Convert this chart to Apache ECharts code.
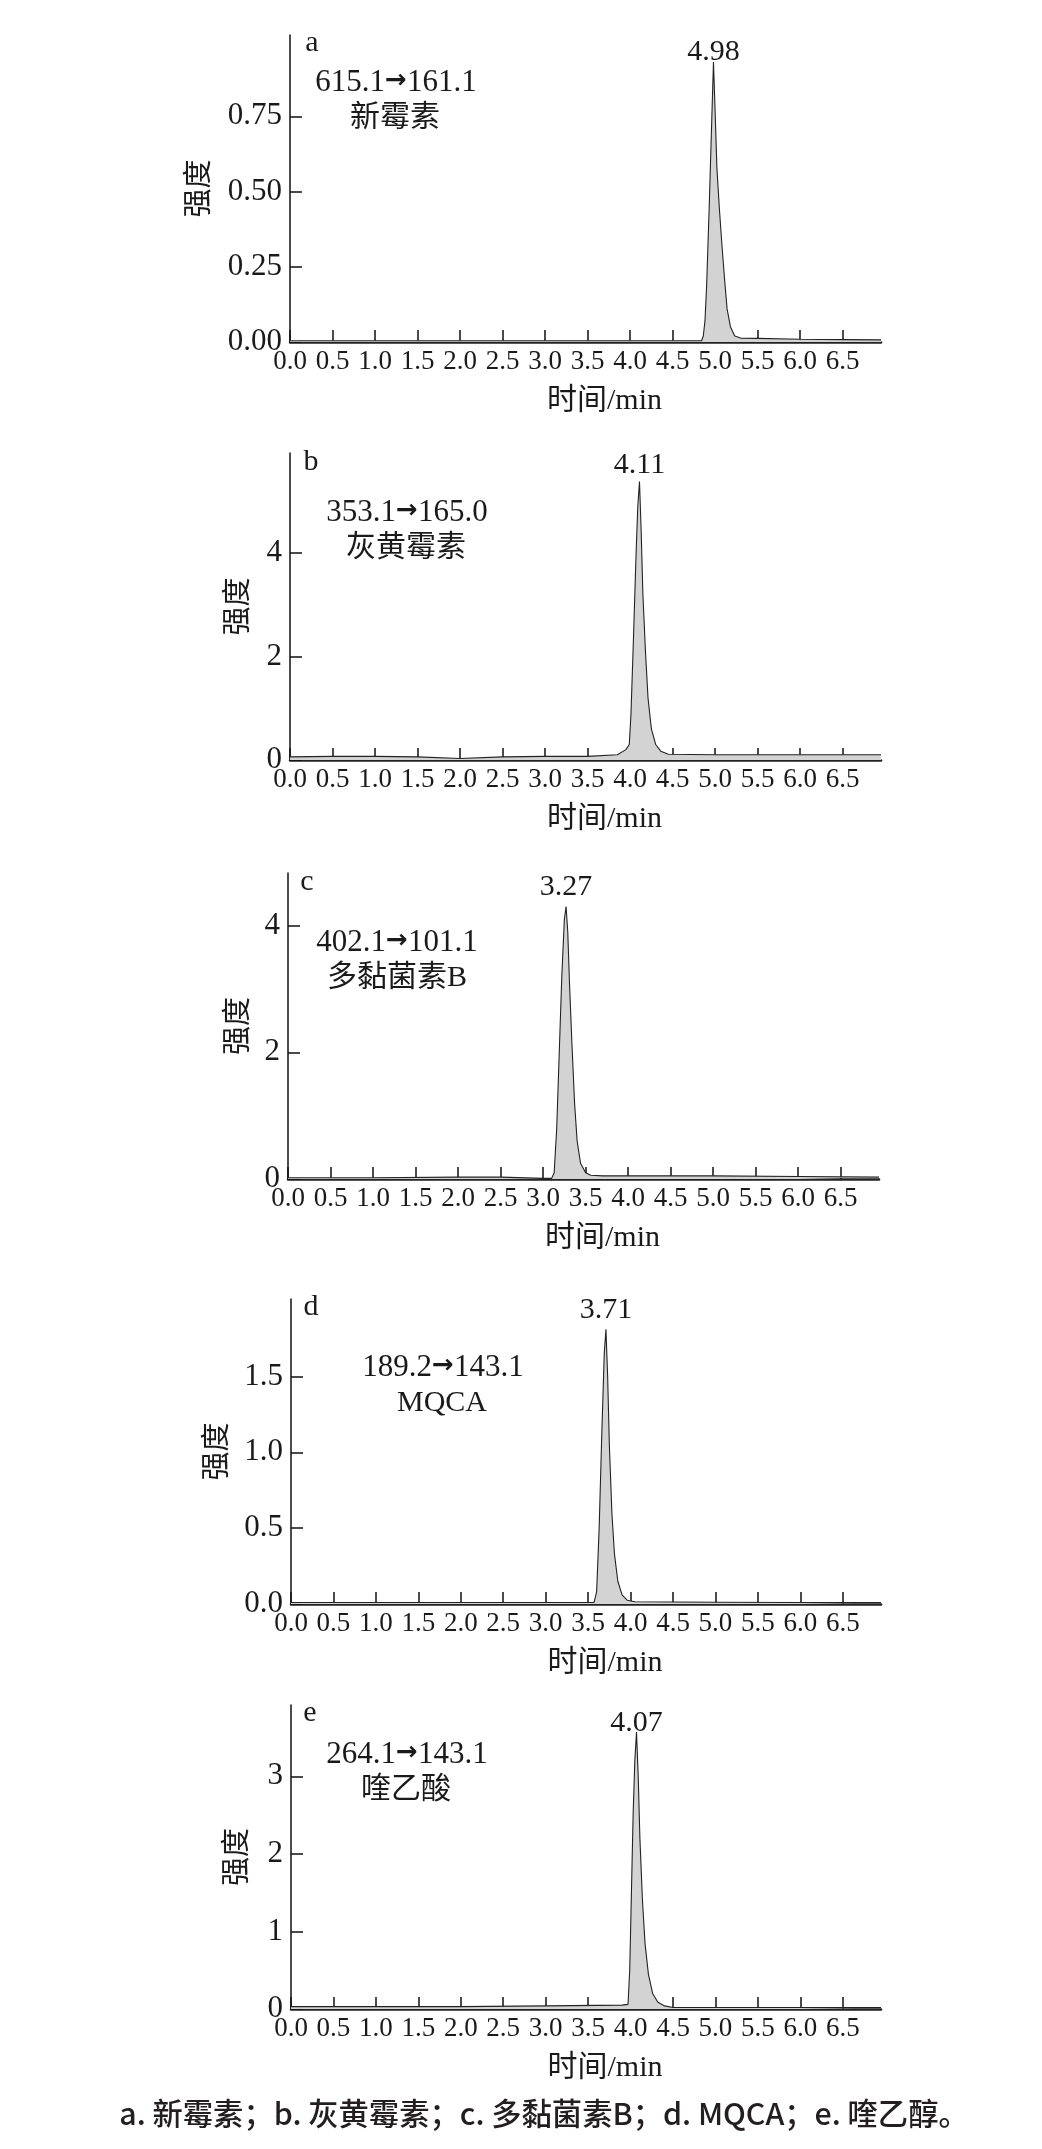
<!DOCTYPE html>
<html>
<head>
<meta charset="utf-8">
<script src="https://cdn.jsdelivr.net/npm/echarts@6/dist/echarts.min.js"></script>
<style>
html,body{margin:0;padding:0;background:#fff;}
#chart{width:1042px;height:2149px;}
</style>
</head>
<body>
<div id="chart"></div>
<script>
// ---- data (time in min, intensity) ----
const timeA = [0, 1.0, 2.0, 3.0, 4.0, 4.84, 4.86, 4.88, 4.90, 4.93, 4.96, 4.98, 5.00, 5.02, 5.05, 5.08, 5.11, 5.14, 5.18, 5.23, 5.30, 5.5, 6.0, 6.5, 6.95];
const intA  = [0.004, 0.004, 0.004, 0.004, 0.004, 0.004, 0.02, 0.07, 0.19, 0.45, 0.74, 0.93, 0.76, 0.58, 0.44, 0.32, 0.21, 0.11, 0.05, 0.02, 0.013, 0.012, 0.009, 0.008, 0.007];

const timeB = [0, 0.5, 1.0, 1.5, 2.0, 2.5, 3.0, 3.5, 3.85, 3.95, 3.99, 4.01, 4.04, 4.07, 4.09, 4.11, 4.13, 4.15, 4.18, 4.21, 4.25, 4.30, 4.36, 4.45, 5.0, 6.0, 6.95];
const intB  = [0.06, 0.07, 0.07, 0.06, 0.03, 0.06, 0.07, 0.07, 0.10, 0.20, 0.30, 0.9, 2.4, 4.0, 4.9, 5.38, 4.4, 3.2, 2.1, 1.2, 0.6, 0.3, 0.17, 0.11, 0.10, 0.10, 0.10];

const timeC = [0, 1.0, 2.0, 2.5, 3.0, 3.10, 3.13, 3.16, 3.19, 3.22, 3.25, 3.27, 3.29, 3.31, 3.34, 3.37, 3.40, 3.44, 3.50, 3.56, 3.7, 4.0, 5.0, 6.0, 6.95];
const intC  = [0.02, 0.02, 0.03, 0.03, 0.01, 0.01, 0.1, 0.8, 2.0, 3.2, 4.1, 4.3, 3.9, 3.1, 2.1, 1.2, 0.6, 0.25, 0.10, 0.06, 0.05, 0.05, 0.05, 0.04, 0.03];

const timeD = [0, 1.0, 2.0, 3.0, 3.5, 3.57, 3.60, 3.63, 3.66, 3.69, 3.71, 3.73, 3.75, 3.78, 3.81, 3.85, 3.90, 3.96, 4.05, 5.0, 6.0, 6.95];
const intD  = [0.01, 0.01, 0.01, 0.01, 0.01, 0.01, 0.08, 0.5, 1.1, 1.65, 1.81, 1.5, 1.05, 0.6, 0.33, 0.15, 0.06, 0.025, 0.015, 0.012, 0.01, 0.01];

const timeE = [0, 1.0, 2.0, 3.0, 3.9, 3.97, 3.99, 4.01, 4.03, 4.05, 4.07, 4.09, 4.11, 4.14, 4.17, 4.21, 4.26, 4.32, 4.40, 4.5, 5.0, 6.0, 6.95];
const intE  = [0.03, 0.03, 0.03, 0.04, 0.05, 0.06, 0.5, 1.5, 2.5, 3.2, 3.57, 3.0, 2.2, 1.4, 0.85, 0.45, 0.2, 0.09, 0.04, 0.02, 0.02, 0.02, 0.02];

const xTicks = [0, 0.5, 1.0, 1.5, 2.0, 2.5, 3.0, 3.5, 4.0, 4.5, 5.0, 5.5, 6.0, 6.5];
const yTicksA = [0, 0.25, 0.5, 0.75];
const yTicksB = [0, 2, 4];
const yTicksC = [0, 2, 4];
const yTicksD = [0, 0.5, 1.0, 1.5];
const yTicksE = [0, 1, 2, 3];

const panelLetters = ['a', 'b', 'c', 'd', 'e'];
const precursors = ['615.1', '353.1', '402.1', '189.2', '264.1'];
const products = ['161.1', '165.0', '101.1', '143.1', '143.1'];
const compounds = ['新霉素', '灰黄霉素', '多黏菌素B', 'MQCA', '喹乙酸'];
const caption = 'a. 新霉素；b. 灰黄霉素；c. 多黏菌素B；d. MQCA；e. 喹乙醇。';
const xName = '时间/min';
const yName = '强度';

// ---- layout ----
const SERIF = '"Liberation Serif","Times New Roman","Noto Sans CJK SC",serif';
const TXT = '#1a1a1a';
const panels = [
  {t: timeA, v: intA, yt: yTicksA, dec: 2, max: 1.02, grid: {left: 290, top: 35, width: 591, height: 307}, nameGap: 75, pk: -6,
   ann: {letter: [312, 43], tr: [396, 83], cp: [395, 118]}},
  {t: timeB, v: intB, yt: yTicksB, dec: 0, max: 5.93, grid: {left: 290, top: 453, width: 591, height: 307}, nameGap: 36, pk: 1,
   ann: {letter: [311, 462], tr: [407, 513], cp: [406, 548]}},
  {t: timeC, v: intC, yt: yTicksC, dec: 0, max: 4.83, grid: {left: 288, top: 873, width: 591, height: 306}, nameGap: 31, pk: 4,
   ann: {letter: [307, 882], tr: [397, 943], cp: [397, 978]}},
  {t: timeD, v: intD, yt: yTicksD, dec: 1, max: 2.01, grid: {left: 291, top: 1299, width: 590, height: 305}, nameGap: 52, pk: 4,
   ann: {letter: [311, 1307], tr: [443, 1368], cp: [442, 1403]}},
  {t: timeE, v: intE, yt: yTicksE, dec: 0, max: 3.92, grid: {left: 291, top: 1705, width: 590, height: 304}, nameGap: 38, pk: -6,
   ann: {letter: [310, 1713], tr: [407, 1755], cp: [406, 1790]}}
];

const grids = [], xAxes = [], yAxes = [], series = [], graphics = [];
panels.forEach((p, i) => {
  grids.push(p.grid);
  xAxes.push({
    type: 'value', gridIndex: i, min: 0, max: 6.95,
    name: xName, nameLocation: 'middle', nameGap: 44,
    nameTextStyle: {fontFamily: SERIF, fontSize: 30, color: TXT, padding: [0, 0, 0, 38]},
    axisLine: {show: true, onZero: false, lineStyle: {color: '#222', width: 2.5}},
    axisTick: {show: true, inside: true, length: 12, customValues: xTicks, lineStyle: {color: '#111', width: 1.5}},
    axisLabel: {show: true, customValues: xTicks, margin: 6, fontFamily: SERIF, fontSize: 27, color: TXT,
      formatter: v => Number(v).toFixed(1)},
    splitLine: {show: false}
  });
  yAxes.push({
    type: 'value', gridIndex: i, min: 0, max: p.max,
    name: yName, nameLocation: 'middle', nameGap: p.nameGap,
    nameTextStyle: {fontFamily: SERIF, fontSize: 29, color: TXT},
    axisLine: {show: true, lineStyle: {color: '#111', width: 1.5}},
    axisTick: {show: true, inside: true, length: 12, customValues: p.yt, lineStyle: {color: '#111', width: 1.5}},
    axisLabel: {show: true, customValues: p.yt, margin: 8, fontFamily: SERIF, fontSize: 31, color: TXT,
      formatter: v => Number(v).toFixed(p.dec)},
    splitLine: {show: false}
  });
  let apex = 0;
  p.v.forEach((y, k) => { if (y > p.v[apex]) apex = k; });
  series.push({
    type: 'line', xAxisIndex: i, yAxisIndex: i,
    data: p.t.map((x, k) => [x, p.v[k]]),
    showSymbol: false,
    lineStyle: {color: '#222', width: 1.1},
    areaStyle: {color: '#d3d3d3', opacity: 1},
    markPoint: {
      symbol: 'circle', symbolSize: 1, itemStyle: {color: 'rgba(0,0,0,0)'},
      silent: true, animation: false,
      label: {show: true, position: 'top', distance: p.pk, fontFamily: SERIF, fontSize: 30, color: TXT,
        formatter: () => p.t[apex].toFixed(2)},
      data: [{coord: [p.t[apex], p.v[apex]]}]
    },
    silent: true, animation: false
  });
  const tstyle = {fontFamily: SERIF, fontSize: 31, fill: TXT, textAlign: 'center', textVerticalAlign: 'middle'};
  graphics.push({type: 'text', x: p.ann.letter[0], y: p.ann.letter[1], style: Object.assign({}, tstyle, {text: panelLetters[i], fontSize: 30})});
  graphics.push({type: 'text', x: p.ann.tr[0], y: p.ann.tr[1], style: Object.assign({}, tstyle, {
    text: '{n|' + precursors[i] + '}{a|→}{n|' + products[i] + '}',
    rich: {
      n: {fontFamily: SERIF, fontSize: 31, fill: TXT},
      a: {fontFamily: '"DejaVu Sans",sans-serif', fontSize: 26, fontWeight: 'bold', fill: TXT, padding: [0, 0, 3, 0]}
    }
  })});
  graphics.push({type: 'text', x: p.ann.cp[0], y: p.ann.cp[1], style: Object.assign({}, tstyle, {text: compounds[i], fontSize: 30})});
});
graphics.push({type: 'text', x: 544, y: 2113, style: {text: caption, fontFamily: '"Noto Sans CJK SC","Noto Sans",sans-serif',
  fontSize: 30.3, fontWeight: 500, fill: '#231f20', textAlign: 'center', textVerticalAlign: 'middle'}});

const chart = echarts.init(document.getElementById('chart'), null, {renderer: 'canvas'});
chart.setOption({
  backgroundColor: '#fff',
  animation: false,
  grid: grids, xAxis: xAxes, yAxis: yAxes, series: series, graphic: graphics
});
</script>
</body>
</html>
